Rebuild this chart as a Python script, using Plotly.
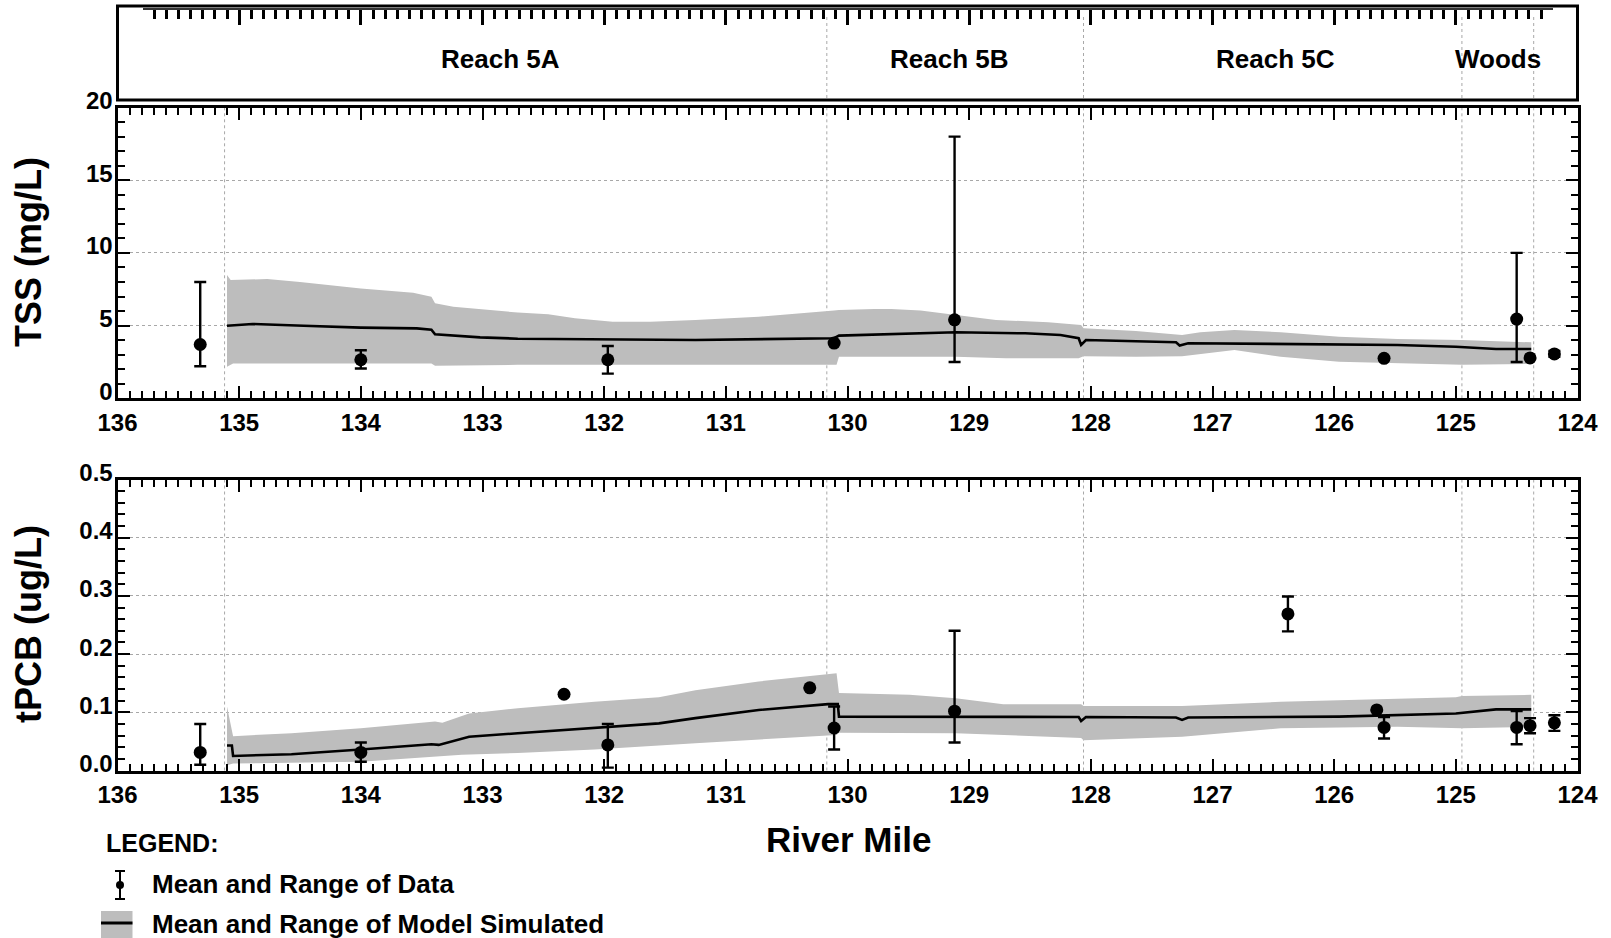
import plotly.graph_objects as go

W, H = 1611, 938

# ---------------- data ----------------
reach_names = ["Reach 5A", "Reach 5B", "Reach 5C", "Woods"]
reach_label_x = [132.85, 129.16, 126.48, 124.65]
reach_bounds = [135.12, 130.17, 128.06, 124.95, 124.36]

# TSS observed data (mean, min, max)
tss_x = [135.32, 134.0, 131.97, 130.11, 129.12, 125.59, 124.5, 124.39, 124.19]
tss_mean = [3.7, 2.65, 2.65, 3.8, 5.4, 2.75, 5.45, 2.78, 3.05]
tss_min = [2.2, 2.05, 1.7, None, 2.5, None, 2.5, None, 2.85]
tss_max = [8.0, 3.3, 3.6, None, 18.0, None, 10.0, None, 3.25]

# TSS model band
tss_up_x = [135.10, 135.07, 134.77, 134.5, 134.0, 133.57, 133.42, 133.39, 133.24, 133.02,
            132.71, 132.46, 132.24, 131.93, 131.62, 131.25, 130.73, 130.11, 130.07, 129.78,
            129.64, 129.40, 129.11, 128.78, 128.35, 128.08, 128.06, 127.63, 127.25, 127.10,
            126.82, 126.44, 125.96, 125.48, 124.95, 124.38]
tss_up = [8.48, 8.14, 8.2, 8.0, 7.56, 7.26, 6.99, 6.53, 6.3, 6.14,
          5.9, 5.78, 5.5, 5.27, 5.27, 5.39, 5.61, 6.03, 6.07, 6.14,
          6.14, 6.03, 5.73, 5.39, 5.23, 5.04, 4.81, 4.63, 4.35, 4.54,
          4.7, 4.54, 4.24, 4.08, 4.01, 3.85]
tss_lo_x = [135.10, 135.05, 134.0, 133.42, 133.39, 132.71, 131.25, 130.09, 130.07, 129.11,
            128.7, 128.1, 128.06, 127.63, 127.25, 126.82, 126.44, 125.96, 124.95, 124.38]
tss_lo = [2.17, 2.4, 2.4, 2.4, 2.24, 2.3, 2.3, 2.3, 2.86, 2.86,
          2.75, 2.75, 2.9, 2.86, 2.9, 3.32, 2.86, 2.52, 2.3, 2.36]
tss_mid_x = [135.10, 134.89, 134.47, 134.0, 133.54, 133.42, 133.39, 133.02, 132.71, 131.25,
             130.11, 130.07, 129.11, 128.54, 128.25, 128.10, 128.08, 128.04, 127.30, 127.27,
             127.20, 126.44, 125.48, 125.0, 124.67, 124.38]
tss_mid = [4.99, 5.11, 4.99, 4.86, 4.81, 4.72, 4.4, 4.19, 4.1, 4.01,
           4.13, 4.31, 4.54, 4.47, 4.35, 4.13, 3.67, 4.01, 3.85, 3.63,
           3.79, 3.72, 3.67, 3.55, 3.39, 3.39]

# tPCB observed data
pcb_x = [135.32, 134.0, 132.33, 131.97, 130.31, 130.11, 129.12, 126.38, 125.65, 125.59, 124.5, 124.39, 124.19]
pcb_mean = [0.031, 0.031, 0.131, 0.044, 0.142, 0.073, 0.102, 0.269, 0.104, 0.074, 0.074, 0.077, 0.082]
pcb_min = [0.01, 0.015, None, 0.005, None, 0.036, 0.048, 0.239, None, 0.055, 0.045, 0.064, 0.068]
pcb_max = [0.08, 0.048, None, 0.08, None, 0.11, 0.24, 0.299, None, 0.092, 0.102, 0.09, 0.095]

# tPCB model band
pcb_up_x = [135.10, 135.05, 134.57, 134.0, 133.39, 133.33, 133.11, 132.71, 132.08, 131.55,
            131.25, 130.73, 130.09, 130.07, 129.49, 129.11, 128.72, 128.08, 128.06, 127.25,
            126.44, 125.0, 124.95, 124.38]
pcb_up = [0.11, 0.059, 0.064, 0.0725, 0.084, 0.082, 0.098, 0.107, 0.118, 0.126,
          0.138, 0.153, 0.167, 0.133, 0.13, 0.124, 0.114, 0.114, 0.111, 0.111,
          0.118, 0.126, 0.128, 0.13]
pcb_lo_x = [135.10, 135.05, 134.0, 133.17, 132.71, 132.08, 131.25, 130.09, 130.07, 129.11,
            128.08, 128.06, 127.25, 126.44, 125.48, 124.95, 124.38]
pcb_lo = [0.009, 0.012, 0.015, 0.027, 0.03, 0.036, 0.047, 0.061, 0.065, 0.064,
          0.056, 0.052, 0.058, 0.0725, 0.075, 0.0725, 0.075]
pcb_mid_x = [135.10, 135.06, 135.05, 134.57, 134.0, 133.42, 133.36, 133.11, 132.71, 132.08,
             131.55, 131.25, 130.73, 130.16, 130.08, 130.07, 129.11, 128.10, 128.08, 128.04,
             127.30, 127.25, 127.20, 125.96, 125.0, 124.67, 124.38]
pcb_mid = [0.043, 0.043, 0.025, 0.028, 0.036, 0.045, 0.044, 0.058, 0.064, 0.0735,
           0.081, 0.09, 0.104, 0.114, 0.114, 0.0925, 0.0925, 0.092, 0.085, 0.092,
           0.091, 0.087, 0.091, 0.0925, 0.098, 0.105, 0.105]

legend_title = "LEGEND:"
legend_labels = ["Mean and Range of Data", "Mean and Range of Model Simulated"]

# ---------------- helpers ----------------
FONT = "Liberation Sans, Arial, Helvetica, sans-serif"
BAND = "#bdbdbd"
GRID = "#a8a8a8"


def px(x):
    return x / W


def py(y):
    return 1 - y / H


def err(mean, lo, hi):
    plus = [None if h is None else h - m for m, h in zip(mean, hi)]
    minus = [None if l is None else m - l for m, l in zip(mean, lo)]
    return plus, minus


X_DOM = [px(117.5), px(1577.5)]
X_RANGE = [136, 124]

fig = go.Figure()


def add_panel(xa, ya, up_x, up, lo_x, lo, mid_x, mid, dx, dm, dlo, dhi):
    poly_x = list(up_x) + list(reversed(lo_x))
    poly_y = list(up) + list(reversed(lo))
    fig.add_trace(go.Scatter(x=poly_x, y=poly_y, fill="toself", fillcolor=BAND,
                             line=dict(width=0, color=BAND), mode="lines",
                             xaxis=xa, yaxis=ya, showlegend=False, hoverinfo="skip"))
    fig.add_trace(go.Scatter(x=mid_x, y=mid, mode="lines", line=dict(color="black", width=2.6),
                             xaxis=xa, yaxis=ya, showlegend=False))
    plus, minus = err(dm, dlo, dhi)
    fig.add_trace(go.Scatter(x=dx, y=dm, mode="markers",
                             marker=dict(color="black", size=13),
                             error_y=dict(type="data", array=plus, arrayminus=minus,
                                          symmetric=False, color="black", thickness=2.4, width=6),
                             xaxis=xa, yaxis=ya, showlegend=False))


add_panel("x", "y", tss_up_x, tss_up, tss_lo_x, tss_lo, tss_mid_x, tss_mid,
          tss_x, tss_mean, tss_min, tss_max)
add_panel("x2", "y2", pcb_up_x, pcb_up, pcb_lo_x, pcb_lo, pcb_mid_x, pcb_mid,
          pcb_x, pcb_mean, pcb_min, pcb_max)

# invisible trace so the header subplot is created
fig.add_trace(go.Scatter(x=[130], y=[0.5], mode="markers", marker=dict(opacity=0),
                         xaxis="x3", yaxis="y3", showlegend=False, hoverinfo="skip"))

# legend icons (drawn on a hidden pixel-scaled axis)
fig.add_trace(go.Scatter(x=[120], y=[885], mode="markers",
                         marker=dict(color="black", size=8),
                         error_y=dict(type="data", array=[14], symmetric=True,
                                      color="black", thickness=2, width=5),
                         xaxis="x4", yaxis="y4", showlegend=False))
fig.add_trace(go.Scatter(x=[101, 132.5, 132.5, 101], y=[911, 911, 938, 938], fill="toself",
                         fillcolor=BAND, line=dict(width=0, color=BAND), mode="lines",
                         xaxis="x4", yaxis="y4", showlegend=False))
fig.add_trace(go.Scatter(x=[101, 132.5], y=[923, 923], mode="lines",
                         line=dict(color="black", width=3),
                         xaxis="x4", yaxis="y4", showlegend=False))

tickfont = dict(family=FONT, size=24, color="black", weight="bold")


def xaxis_cfg(anchor, showlabels=True):
    return dict(domain=X_DOM, range=X_RANGE, autorange=False, anchor=anchor, automargin=False,
                showline=True, linewidth=3, linecolor="black", mirror="ticks",
                ticks="inside", ticklen=12, tickwidth=2, tickcolor="black",
                dtick=1, tick0=124, showgrid=False, zeroline=False,
                showticklabels=showlabels, tickfont=tickfont, ticklabelstandoff=1,
                minor=dict(ticks="inside", ticklen=7, tickwidth=2, tickcolor="black",
                           dtick=0.1, showgrid=False))


def yaxis_cfg(anchor, dom, rng, dt, mdt, fmt):
    return dict(domain=dom, range=rng, autorange=False, anchor=anchor, automargin=False,
                showline=True, linewidth=3, linecolor="black", mirror="ticks",
                ticks="inside", ticklen=12, tickwidth=2, tickcolor="black",
                dtick=dt, tick0=0, tickformat=fmt, ticklabelshift=-7,
                showgrid=True, gridcolor=GRID, griddash="dot", gridwidth=1,
                zeroline=False, tickfont=tickfont, ticklabelstandoff=-3,
                minor=dict(ticks="inside", ticklen=7, tickwidth=2, tickcolor="black",
                           dtick=mdt, showgrid=False))


fig.update_layout(
    width=W, height=H, margin=dict(l=0, r=0, t=0, b=0, autoexpand=False),
    paper_bgcolor="white", plot_bgcolor="white", showlegend=False,
    font=dict(family=FONT, color="black"),
    xaxis=xaxis_cfg("y"),
    yaxis=yaxis_cfg("x", [py(398.3), py(107.5)], [0, 20], 5, 1, "d"),
    xaxis2=xaxis_cfg("y2"),
    yaxis2=yaxis_cfg("x2", [py(770.5), py(479.5)], [0, 0.5], 0.1, 0.02, ".1f"),
    xaxis3=dict(domain=[px(143), px(1553)],
                range=[136 - (143 - 117.5) / 121.67, 136 - (1553 - 117.5) / 121.67],
                autorange=False, anchor="y3", side="top", automargin=False,
                showline=True, linewidth=2, linecolor="#333",
                ticks="inside", ticklen=15, tickwidth=2.5, tickcolor="black",
                dtick=1, tick0=124, showticklabels=False, showgrid=False, zeroline=False,
                minor=dict(ticks="inside", ticklen=9, tickwidth=2.5, tickcolor="black",
                           dtick=0.1, showgrid=False)),
    yaxis3=dict(domain=[py(100), py(10)], range=[0, 1], autorange=False, anchor="x3",
                showline=False, showgrid=False, zeroline=False, ticks="",
                showticklabels=False, automargin=False),
    xaxis4=dict(domain=[0, 1], range=[0, W], visible=False, anchor="y4", automargin=False),
    yaxis4=dict(domain=[0, 150 / H], range=[938, 788], visible=False, anchor="x4",
                automargin=False),
)

shapes = []
# header box
shapes.append(dict(type="rect", xref="paper", yref="paper", x0=px(117.5), x1=px(1577.5),
                   y0=py(100), y1=py(6), line=dict(color="black", width=3)))
for b in reach_bounds:
    for yr in ["y domain", "y2 domain"]:
        shapes.append(dict(type="line", xref="x", yref=yr, x0=b, x1=b, y0=0, y1=1,
                           line=dict(color=GRID, width=1, dash="dot"), layer="below"))
for b in reach_bounds[1:]:
    shapes.append(dict(type="line", xref="x", yref="paper", x0=b, x1=b,
                       y0=py(98), y1=py(14),
                       line=dict(color=GRID, width=1, dash="dot"), layer="below"))
fig.update_layout(shapes=shapes)

ann = []
for name, xv in zip(reach_names, reach_label_x):
    ann.append(dict(text=name, x=xv, xref="x", y=py(58.5), yref="paper",
                    showarrow=False, xanchor="center", yanchor="middle",
                    font=dict(family=FONT, size=26, color="black", weight="bold")))
ann.append(dict(text="TSS (mg/L)", x=px(28), y=py(252), xref="paper", yref="paper",
                textangle=-90, showarrow=False, xanchor="center", yanchor="middle",
                font=dict(family=FONT, size=36, color="black", weight="bold")))
ann.append(dict(text="tPCB (ug/L)", x=px(28), y=py(624), xref="paper", yref="paper",
                textangle=-90, showarrow=False, xanchor="center", yanchor="middle",
                font=dict(family=FONT, size=36, color="black", weight="bold")))
ann.append(dict(text="River Mile", x=px(848.5), y=py(839), xref="paper", yref="paper",
                showarrow=False, xanchor="center", yanchor="middle",
                font=dict(family=FONT, size=35, color="black", weight="bold")))
ann.append(dict(text=legend_title, x=px(104), y=py(843), xref="paper", yref="paper",
                showarrow=False, xanchor="left", yanchor="middle",
                font=dict(family=FONT, size=25, color="black", weight="bold")))
for lab, yy in zip(legend_labels, [883.5, 923.5]):
    ann.append(dict(text=lab, x=px(150), y=py(yy), xref="paper", yref="paper",
                    showarrow=False, xanchor="left", yanchor="middle",
                    font=dict(family=FONT, size=26, color="black", weight="bold")))
fig.update_layout(annotations=ann)

fig.write_html("out.html")
